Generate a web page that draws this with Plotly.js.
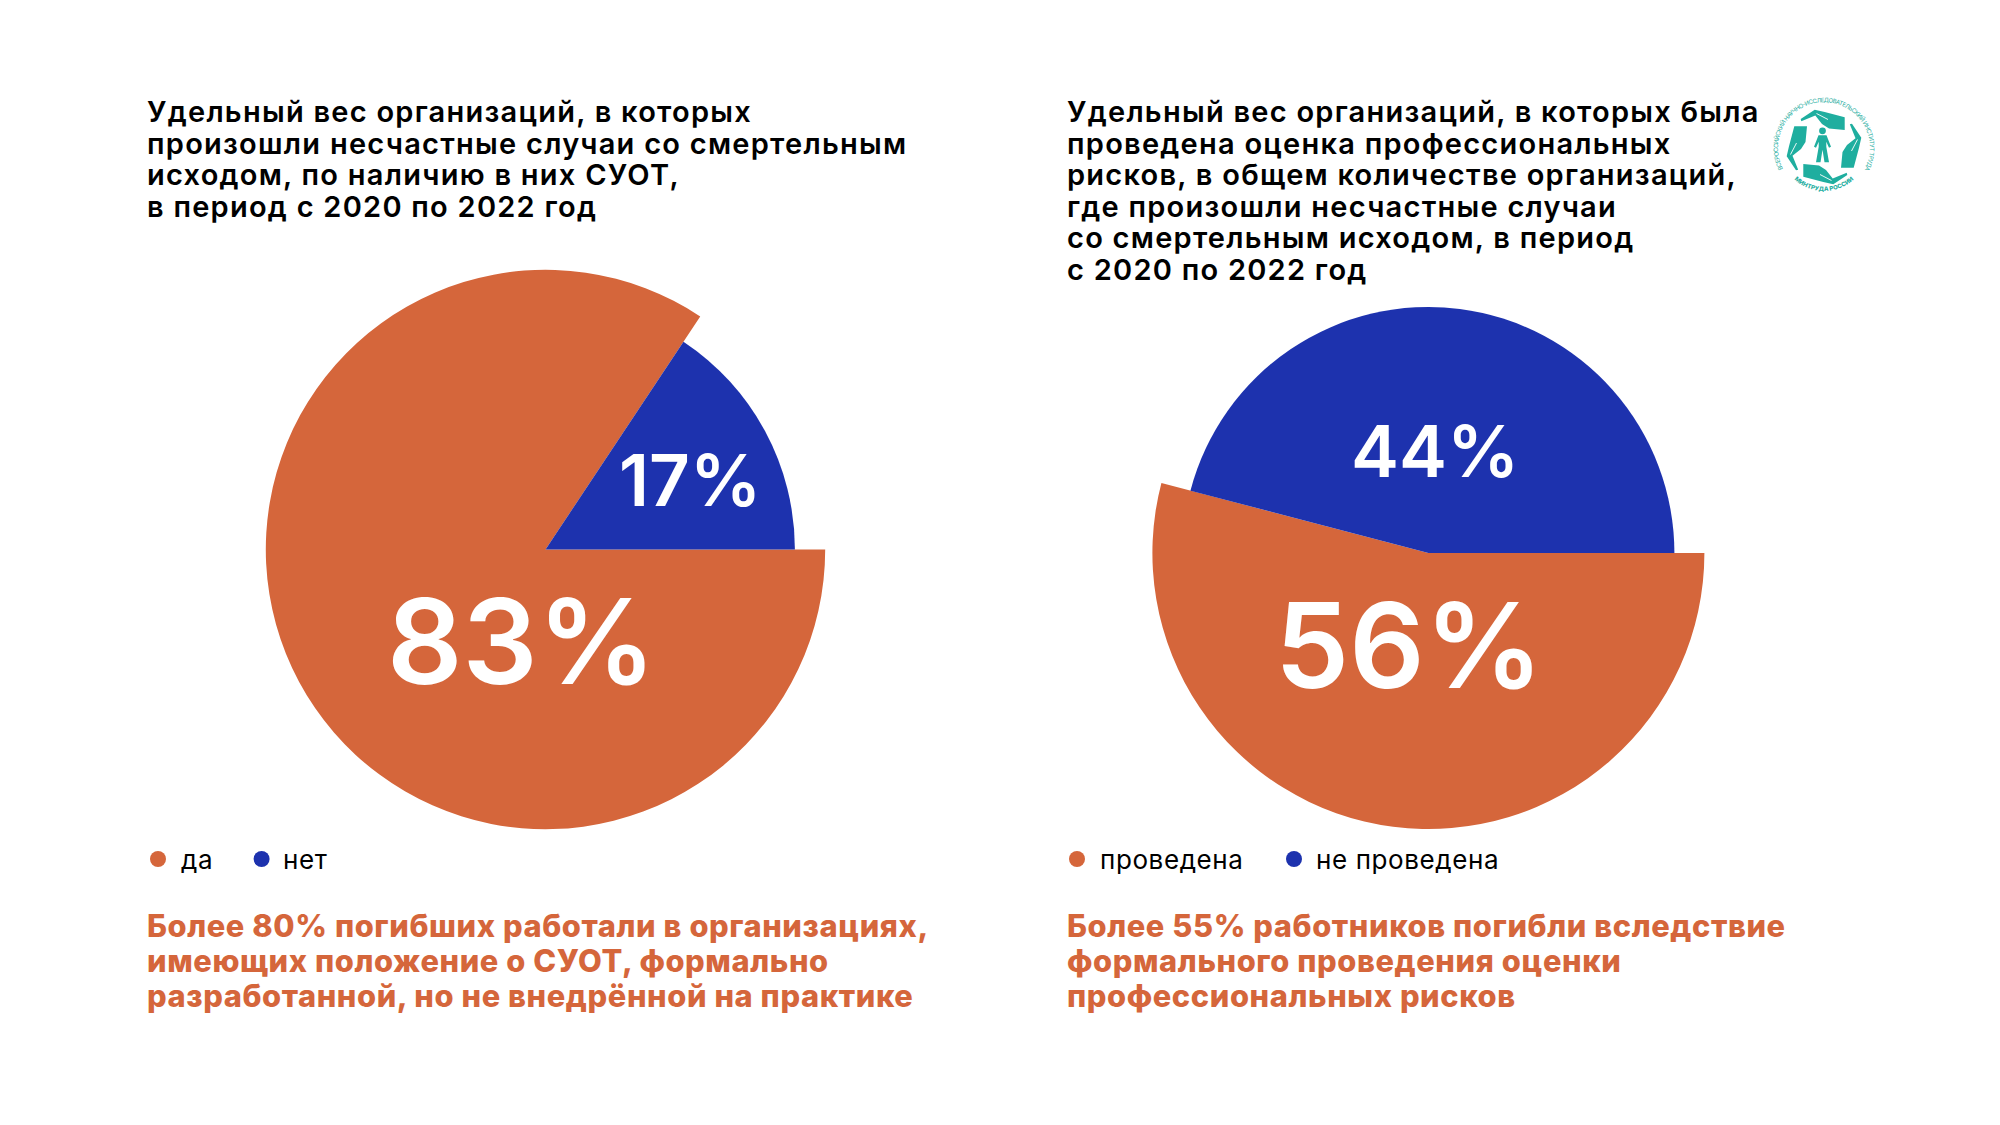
<!DOCTYPE html>
<html>
<head>
<meta charset="utf-8">
<script src="https://cdn.plot.ly/plotly-3.0.1.min.js"></script>
<style>
    html, body { margin: 0; padding: 0; background: #fff; }
    #chart { position: absolute; left: 0; top: 0; width: 2000px; height: 1125px; }
    #logo { position: absolute; left: 1762.3px; top: 91.3px; }
    .annotation-text[style*="font-size: 29px"] { letter-spacing: 1.25px; }
    .annotation-text[style*="font-size: 30.8px"] { letter-spacing: 0.6px; }
    .annotation-text[style*="font-size: 26px"] { letter-spacing: 0.6px; }
</style>
</head>
<body>
<div id="chart"></div>
<svg id="logo" width="124" height="112" viewBox="-62 -56 124 112"></svg>
<script>
// slice sizes follow the angles in the picture, the printed percentages are kept apart
let leftCategories = ["да", "нет"];
let leftValues = [84.33, 15.67];
let leftPercents = ["83%", "17%"];

let rightCategories = ["проведена", "не проведена"];
let rightValues = [54.08, 45.92];
let rightPercents = ["56%", "44%"];

let leftTitle = [
    "Удельный вес организаций, в которых",
    "произошли несчастные случаи со смертельным",
    "исходом, по наличию в них СУОТ,",
    "в период с 2020 по 2022 год"
];
let rightTitle = [
    "Удельный вес организаций, в которых была",
    "проведена оценка профессиональных",
    "рисков, в общем количестве организаций,",
    "где произошли несчастные случаи",
    "со смертельным исходом, в период",
    "с 2020 по 2022 год"
];
let leftNote = [
    "Более 80% погибших работали в организациях,",
    "имеющих положение о СУОТ, формально",
    "разработанной, но не внедрённой на практике"
];
let rightNote = [
    "Более 55% работников погибли вследствие",
    "формального проведения оценки",
    "профессиональных рисков"
];

const W = 2000, H = 1125;
const ORANGE = "#D5663B", BLUE = "#1D32AE", TEAL = "#1FAE9F";
const FONT = "Inter, 'Noto Sans', sans-serif";
const NONE = "rgba(0,0,0,0)";

function px(x) { return x / W; }
function py(y) { return 1 - y / H; }

function pieTrace(labels, values, colors, cx, cy, r) {
    return {
        type: "pie",
        labels: labels,
        values: values,
        sort: false,
        direction: "clockwise",
        rotation: 90,
        textinfo: "none",
        hoverinfo: "skip",
        showlegend: false,
        marker: { colors: colors, line: { width: 0 } },
        domain: { x: [px(cx - r), px(cx + r)], y: [py(cy + r), py(cy - r)] }
    };
}

function textAt(text, x, y, size, color, weight, anchor) {
    return {
        text: text,
        xref: "paper", yref: "paper",
        x: px(x), y: py(y),
        xanchor: anchor || "left", yanchor: "middle",
        showarrow: false,
        borderpad: 0,
        font: { family: FONT, size: size, color: color, weight: weight }
    };
}

function dot(x, y, color) {
    return {
        type: "circle",
        xref: "paper", yref: "paper",
        x0: px(x - 8), x1: px(x + 8),
        y0: py(y + 8), y1: py(y - 8),
        fillcolor: color,
        line: { width: 0 }
    };
}

let traces = [
    pieTrace(leftCategories, leftValues, [ORANGE, NONE], 545.5, 549.5, 279.7),
    pieTrace(leftCategories, leftValues, [NONE, BLUE], 545.5, 549.5, 249.4),
    pieTrace(rightCategories, rightValues, [ORANGE, NONE], 1428.4, 553, 276),
    pieTrace(rightCategories, rightValues, [NONE, BLUE], 1428.4, 553, 246)
];

let annotations = [];
leftTitle.forEach((t, i) => annotations.push(textAt(t, 146, 111.5 + i * 31.6, 29, "#000", 600)));
rightTitle.forEach((t, i) => annotations.push(textAt(t, 1066, 111.5 + i * 31.6, 29, "#000", 600)));
leftNote.forEach((t, i) => annotations.push(textAt(t, 146, 925 + i * 35.3, 30.8, ORANGE, 800)));
rightNote.forEach((t, i) => annotations.push(textAt(t, 1066, 925 + i * 35.3, 30.8, ORANGE, 800)));

annotations.push(textAt(leftPercents[0], 521, 641, 118, "#fff", 600, "center"));
annotations.push(textAt(leftPercents[1], 690, 480, 71, "#fff", 600, "center"));
annotations.push(textAt(rightPercents[0], 1409, 645, 118, "#fff", 600, "center"));
annotations.push(textAt(rightPercents[1], 1435, 450, 72, "#fff", 600, "center"));

annotations.push(textAt(leftCategories[0], 180, 859, 26, "#000", 400));
annotations.push(textAt(leftCategories[1], 282, 859, 26, "#000", 400));
annotations.push(textAt(rightCategories[0], 1099, 859, 26, "#000", 400));
annotations.push(textAt(rightCategories[1], 1315, 859, 26, "#000", 400));

let shapes = [
    dot(158, 859, ORANGE),
    dot(261.6, 859, BLUE),
    dot(1077, 859, ORANGE),
    dot(1294, 859, BLUE)
];

let layout = {
    width: W,
    height: H,
    margin: { l: 0, r: 0, t: 0, b: 0 },
    paper_bgcolor: "#fff",
    showlegend: false,
    annotations: annotations,
    shapes: shapes
};

Plotly.newPlot("chart", traces, layout, { displayModeBar: false, staticPlot: true });

// logo: four hands round a figure, with the institute name on the ring
function drawLogo() {
    let hand = "M-23.3,-28 L-9.3,-37.3 L0.7,-35 L20.7,-29.7 L20.7,-17 L5,-18.5 L-2,-23 L-8.7,-31.5 L-22.7,-25.8 Z";
    let crease = "M-7.5,-33.5 L4,-27.5";
    let hands = [0, 90, 180, 270].map(a =>
        `<g transform="rotate(${a})"><path d="${hand}" fill="${TEAL}"/><path d="${crease}" stroke="#fff" stroke-width="0.9" fill="none"/></g>`
    ).join("");
    let person = `<g transform="translate(-1.5,-4.2)"><circle cx="0" cy="-12" r="3.4" fill="${TEAL}"/>` +
        `<path d="M-4,-7.5 L4,-7.5 L8.5,4 L6.5,5 L3.8,-1 L3.8,4 L6.5,19.5 L2,19.5 L0,7 L-2,19.5 L-6.5,19.5 L-3.8,4 L-3.8,-1 L-6.5,5 L-8.5,4 Z" fill="${TEAL}"/></g>`;
    let ring = `<defs><path id="ringTop" d="M-41,22 A46,46 0 1 1 41,22"/>` +
        `<path id="ringBottom" d="M-28,34 A44,44 0 0 0 28,34"/></defs>` +
        `<text font-family="Inter, sans-serif" font-size="6" fill="${TEAL}"><textPath href="#ringTop" textLength="188" lengthAdjust="spacing">ВСЕРОССИЙСКИЙ НАУЧНО-ИССЛЕДОВАТЕЛЬСКИЙ ИНСТИТУТ ТРУДА</textPath></text>` +
        `<text font-family="Inter, sans-serif" font-size="6" font-weight="800" fill="${TEAL}"><textPath href="#ringBottom" startOffset="50%" text-anchor="middle">МИНТРУДА РОССИИ</textPath></text>`;
    document.getElementById("logo").innerHTML = hands + person + ring;
}
drawLogo();
</script>
</body>
</html>
